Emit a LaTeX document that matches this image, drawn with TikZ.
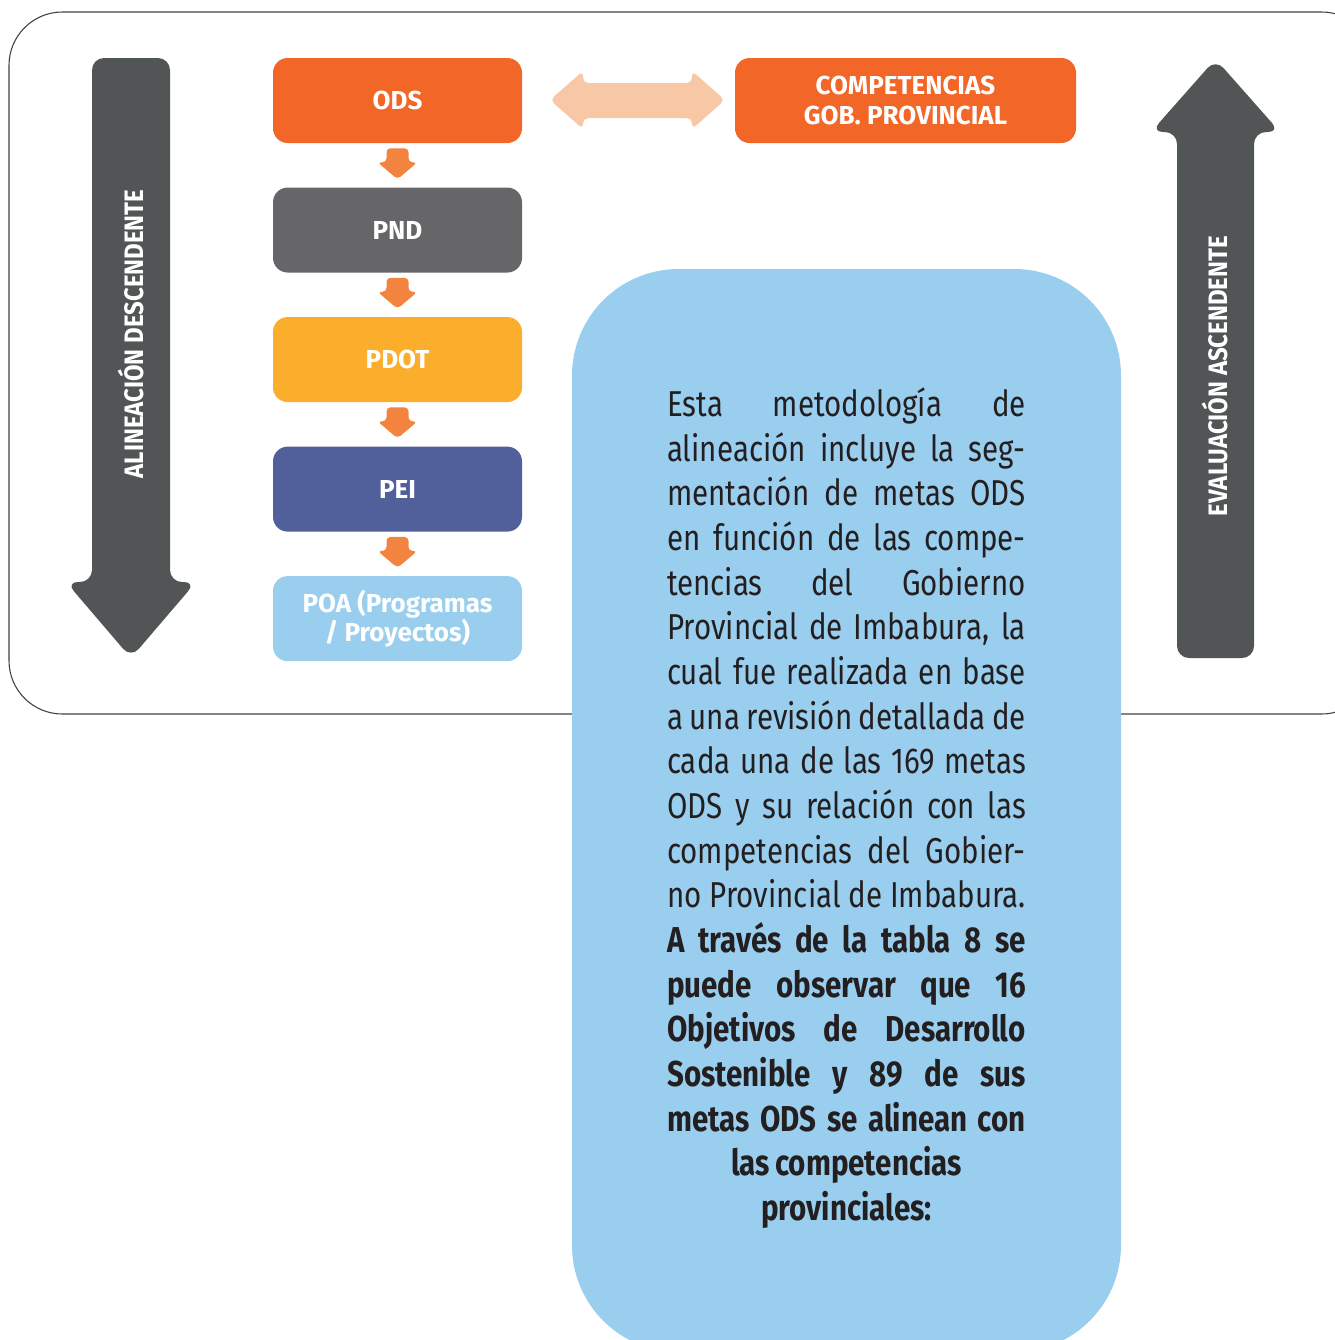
\documentclass[tikz,border=0pt]{standalone}
\usepackage{fontspec}
\setmainfont{Fira Sans}[FakeStretch=0.82,WordSpace=0.75]
\newfontfamily\boxfont{Fira Sans}
\newfontfamily\sidefont{Fira Sans}[FakeStretch=0.9]
\usetikzlibrary{calc,positioning}

\definecolor{odsorange}{HTML}{F26628}
\definecolor{pndgray}{HTML}{666668}
\definecolor{pdotyellow}{HTML}{FBAE2C}
\definecolor{peiblue}{HTML}{515F9B}
\definecolor{panelblue}{HTML}{9ACEEF}
\definecolor{steporange}{HTML}{F2843F}
\definecolor{linkpeach}{HTML}{F8C7A6}
\definecolor{bigarrow}{HTML}{515556}
\definecolor{bodytext}{HTML}{231F20}

\tikzset{
	planbox/.style={rectangle, rounded corners=11pt, minimum width=186.75pt, minimum height=63.75pt,
		text=white, font=\boxfont\fontsize{19.5}{22}\selectfont\bfseries, align=center, inner sep=2pt},
	sidelabel/.style={text=white, font=\sidefont\fontsize{20}{22}\selectfont\bfseries, rotate=90}
}

\newcommand{\ljust}[1]{\makebox[269pt][s]{#1}}

\begin{document}
\begin{tikzpicture}[x=0.75pt,y=-0.75pt]
\useasboundingbox (0,0) rectangle (1335,1340);
\clip (0,0) rectangle (1335,1340);

%frame
\draw [line width=0.8pt, black!75, rounded corners=40] (9,12) rectangle (1375,714);

%text panel
\fill [panelblue, rounded corners=80] (572,269) rectangle (1121,1352);

%boxes
\node[planbox, fill=odsorange] (ods) at (397.5,100.5) {ODS};
\node[planbox, fill=pndgray, below=33pt of ods] (pnd) {PND};
\node[planbox, fill=pdotyellow, below=33pt of pnd] (pdot) {PDOT};
\node[planbox, fill=peiblue, below=33pt of pdot] (pei) {PEI};
\node[planbox, fill=panelblue, below=33pt of pei] (poa) {POA (Programas\\ / Proyectos)};
\node[planbox, fill=odsorange, minimum width=255.75pt, font=\boxfont\fontsize{19.5}{23}\selectfont\bfseries] (comp) at (905.5,100.5) {COMPETENCIAS\\GOB. PROVINCIAL};

%small arrows
\foreach \a/\b in {ods/pnd,pnd/pdot,pdot/pei,pei/poa}{
	\coordinate (m\a) at ($(\a.south)!0.5!(\b.north)$);
	\fill [steporange, rounded corners=3] ($(m\a)+(-11,-17)$)--($(m\a)+(11,-17)$)--($(m\a)+(11,-3)$)--($(m\a)+(20,-3)$)--($(m\a)+(0,14)$)--($(m\a)+(-20,-3)$)--($(m\a)+(-11,-3)$)--cycle;
}

%double arrow
\fill [linkpeach, rounded corners=4] (550,100)--(583,71)--(583,83)--(692,83)--(692,71)--(725,100)--(692,129)--(692,118)--(583,118)--(583,129)--cycle;

%alineacion descendente
\fill [bigarrow, rounded corners=9] (92,58)--(170,58)--(170,582)--(196,582)--(131,658)--(66,582)--(92,582)--cycle;
\node[sidelabel] (desc) at (131,334) {ALINEACIÓN DESCENDENTE};

%evaluacion ascendente
\fill [bigarrow, rounded corners=9] (1177,658)--(1177,132)--(1151,132)--(1215.5,59)--(1280,132)--(1254,132)--(1254,658)--cycle;
\node[sidelabel] (asc) at (1215,376) {EVALUACIÓN ASCENDENTE};

%text
\node[text=bodytext, align=center, inner sep=0pt, font=\fontsize{27}{33.5}\selectfont] (txt) at (846.5,808) {%
\ljust{Esta metodología de}\\
\ljust{alineación incluye la seg-}\\
\ljust{mentación de metas ODS}\\
\ljust{en función de las compe-}\\
\ljust{tencias del Gobierno}\\
\ljust{Provincial de Imbabura, la}\\
\ljust{cual fue realizada en base}\\
\ljust{a una revisión detallada de}\\
\ljust{cada una de las 169 metas}\\
\ljust{ODS y su relación con las}\\
\ljust{competencias del Gobier-}\\
\ljust{no Provincial de Imbabura.}\\
\bfseries\ljust{A través de la tabla 8 se}\\
\bfseries\ljust{puede observar que 16}\\
\bfseries\ljust{Objetivos de Desarrollo}\\
\bfseries\ljust{Sostenible y 89 de sus}\\
\bfseries\ljust{metas ODS se alinean con}\\
\bfseries las competencias\\
\bfseries provinciales:};

\end{tikzpicture}
\end{document}
